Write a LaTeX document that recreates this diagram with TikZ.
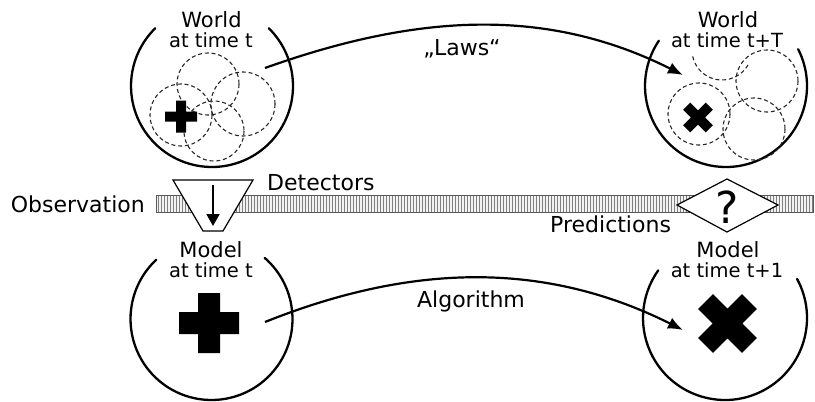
\documentclass[tikz,border=0pt]{standalone}
\usepackage{fontspec}
\setmainfont{DejaVu Sans}
\usetikzlibrary{arrows.meta}

% filled plus sign: centre x, centre y, half length, half thickness, rotation
\newcommand\markcross[5]{%
  \begin{scope}[shift={(#1,#2)},rotate=#5]
    \fill (-#4,-#3) -- (#4,-#3) -- (#4,-#4) -- (#3,-#4) -- (#3,#4) -- (#4,#4)
      -- (#4,#3) -- (-#4,#3) -- (-#4,#4) -- (-#3,#4) -- (-#3,-#4) -- (-#4,-#4) -- cycle;
  \end{scope}}

\begin{document}
\begin{tikzpicture}[x=1pt,y=-1pt,
  rim/.style={line width=2.3pt, line cap=round},
  part/.style={dash pattern=on 4pt off 2.8pt, line width=1.1pt, black!85},
  ttl/.style={anchor=base, inner sep=0pt, font=\fontsize{21}{25}\selectfont},
  subttl/.style={anchor=base, inner sep=0pt, font=\fontsize{19.5}{23}\selectfont},
  lbl/.style={anchor=base, inner sep=0pt, font=\fontsize{22}{26}\selectfont},
  flow/.style={line width=2.2pt, -{Latex[length=15pt,width=12pt]}},
  outline/.style={line width=1.2pt, fill=white, line join=miter},
]
\useasboundingbox (0,0) rectangle (815,402);

% centres of the four round frames
\coordinate (worldt)  at (212,86);
\coordinate (worldtT) at (726,86);
\coordinate (modelt)  at (211.5,319);
\coordinate (modelt1) at (725,318);

% frames, open at the top for their titles
\draw[rim] (worldt)  ++(-45.5:81) arc[start angle=-45.5, end angle=225.5, radius=81];
\draw[rim] (worldtT) ++(-27:81)   arc[start angle=-27,   end angle=214,   radius=81];
\draw[rim] (modelt)  ++(-49:81)   arc[start angle=-49,   end angle=227,   radius=81];
\draw[rim] (modelt1) ++(-28.5:82) arc[start angle=-28.5, end angle=215.5, radius=82];

% titles
\node[ttl]    (wt)   at (211.5,27) {World};
\node[subttl] (wts)  at (211,47)   {at time t};
\node[ttl]    (wT)   at (728,27)   {World};
\node[subttl] (wTs)  at (727,47)   {at time t+T};
\node[ttl]    (mt)   at (211,257)  {Model};
\node[subttl] (mts)  at (211,277)  {at time t};
\node[ttl]    (m1)   at (728,257)  {Model};
\node[subttl] (m1s)  at (727,277)  {at time t+1};

% overlapping regions of the world at time t
\draw[part] (181,115) circle[radius=31];
\draw[part] (208,84)  circle[radius=31];
\draw[part] (243,104) circle[radius=32];
\draw[part] (214,131) circle[radius=30];
\markcross{181}{116.5}{16}{5}{0}

% the same regions at time t+T
\draw[part] (699,114) circle[radius=31];
\draw[part] (722,50) ++(30:30) arc[start angle=30, end angle=168, radius=30];
\draw[part] (767,81)  circle[radius=31];
\draw[part] (754,129) circle[radius=31];
\markcross{698}{117.5}{16}{5}{45}

% model states
\markcross{209}{323}{30}{11}{0}
\markcross{727.5}{323.5}{31}{10.5}{45}

% observation strip
\fill[black!5] (156,195) rectangle (813,212);
\foreach \x in {158,161,...,812}
  \draw[black!50, line width=1pt] (\x,195) -- (\x,212);
\draw[black!65, line width=1pt] (156,195) rectangle (813,212);

% detector funnel
\draw[outline] (173,180) -- (253,180) -- (223,231) -- (203,231) -- cycle;
\coordinate (obsfrom) at (213,185);
\coordinate (obsto)   at (213,226);
\draw[line width=2pt, -{Triangle[length=12pt,width=13pt]}] (obsfrom) -- (obsto);

% prediction diamond
\draw[outline] (677,205) -- (727,179) -- (778,205) -- (727,232) -- cycle;
\node[anchor=base, inner sep=0pt, font=\fontsize{44}{48}\selectfont] (q) at (727,223) {?};

% strip labels
\node[lbl, anchor=base east] (obs)  at (145,212) {Observation};
\node[lbl, anchor=base west] (det)  at (267,190) {Detectors};
\node[lbl, anchor=base west] (pred) at (550,232) {Predictions};

% evolution arrows
\coordinate (lawsfrom) at (265,68);
\coordinate (lawsto)   at (683,75);
\draw[flow] (lawsfrom) .. controls (427,10) and (553,10) .. (lawsto);
\node[lbl] (laws) at (462,55) {„Laws“};

\coordinate (algfrom) at (265,322);
\coordinate (algto)   at (683,330);
\draw[flow] (algfrom) .. controls (415,262) and (547,262) .. (algto);
\node[lbl] (alg) at (471,307) {Algorithm};
\end{tikzpicture}
\end{document}
